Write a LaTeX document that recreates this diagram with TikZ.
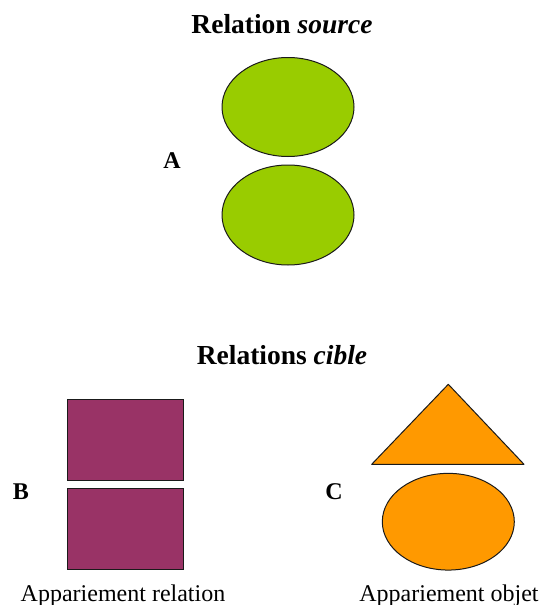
\documentclass[tikz,border=0pt]{standalone}
\usepackage{fontspec}
\setmainfont{Liberation Serif}
\usetikzlibrary{shapes.geometric}
\definecolor{leaf}{HTML}{99CC00}
\definecolor{plum}{HTML}{993366}
\definecolor{amber}{HTML}{FF9900}
\definecolor{edge}{HTML}{1A1A1A}
\tikzset{
  heading/.style={anchor=base, inner sep=0pt, font=\fontsize{27.5}{30}\selectfont\bfseries},
  tag/.style={anchor=base, inner sep=0pt, font=\fontsize{24}{28}\selectfont\bfseries},
  caption/.style={anchor=base, inner sep=0pt, font=\fontsize{24}{28}\selectfont},
  shapeline/.style={draw=edge, line width=1pt},
  oval/.style={shapeline, ellipse, inner sep=0pt},
  block/.style={shapeline, rectangle, inner sep=0pt, minimum width=116pt, minimum height=81.5pt},
}
\begin{document}
\begin{tikzpicture}[x=1pt, y=-1pt]
\useasboundingbox (0,0) rectangle (543,605);
\fill[white] (0,0) rectangle (543,605);

% source relation
\node[heading] (srctitle) at (282,33) {Relation \textit{source}};
\node[oval, fill=leaf, minimum width=132pt, minimum height=99pt] (srcup) at (288,107) {};
\node[oval, fill=leaf, minimum width=132pt, minimum height=100pt] (srcdown) at (288,215) {};
\node[tag] (labA) at (172,168) {A};

% target relations
\node[heading] (tgttitle) at (282,364) {Relations \textit{cible}};

% B: relation matching
\node[block, fill=plum] (relup) at (125.3,440) {};
\node[block, fill=plum] (reldown) at (125.3,529) {};
\node[tag] (labB) at (21,499) {B};
\node[caption] (capB) at (123,601) {Appariement relation};

% C: object matching
\draw[shapeline, fill=amber, line join=round] (448.3,384.3) -- (524,464.3) -- (371.7,464.3) -- cycle;
\node[oval, fill=amber, minimum width=132pt, minimum height=96.7pt] (objdown) at (448.3,521.7) {};
\node[tag] (labC) at (334,499) {C};
\node[caption] (capC) at (449,601) {Appariement objet};
\end{tikzpicture}
\end{document}
